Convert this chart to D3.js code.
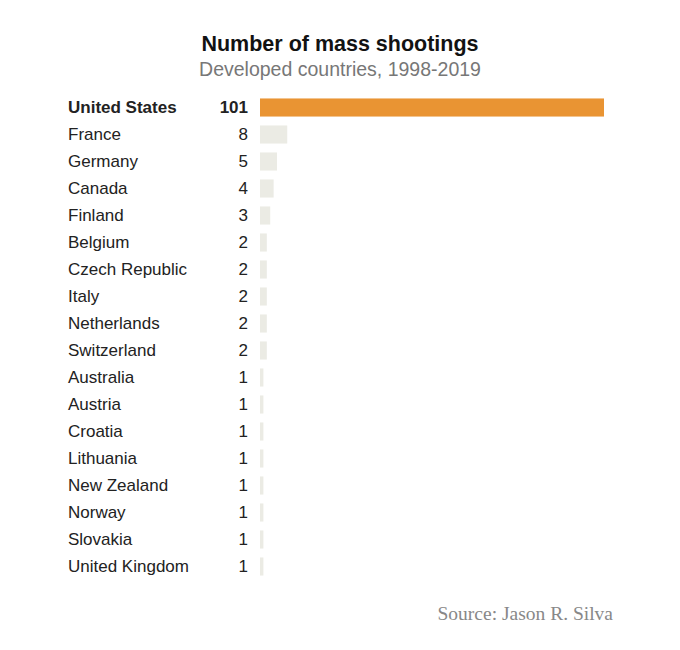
<!DOCTYPE html>
<html><head><meta charset="utf-8">
<script src="https://cdn.jsdelivr.net/npm/d3@7"></script>
<style>body{margin:0;background:#fff;}</style>
</head><body>
<svg id="chart" width="680" height="650"></svg>
<script>
const countries = ["United States","France","Germany","Canada","Finland","Belgium","Czech Republic","Italy","Netherlands","Switzerland","Australia","Austria","Croatia","Lithuania","New Zealand","Norway","Slovakia","United Kingdom"];
const shootings = [101,8,5,4,3,2,2,2,2,2,1,1,1,1,1,1,1,1];
const highlight = "United States";

const svg = d3.select("#chart");
const font = "'Liberation Sans', Arial, sans-serif";

svg.append("text").attr("x",340).attr("y",51).attr("text-anchor","middle")
  .attr("font-family",font).attr("font-weight","bold").attr("font-size",21.5).attr("fill","#121212")
  .text("Number of mass shootings");
svg.append("text").attr("x",340).attr("y",76).attr("text-anchor","middle")
  .attr("font-family",font).attr("font-size",19.5).attr("fill","#777")
  .text("Developed countries, 1998-2019");

const x = d3.scaleLinear().domain([0,101]).range([260,604]);
const y = d3.scaleBand().domain(countries).range([94,580]).paddingInner(0.33).paddingOuter(0.165);

const rows = svg.append("g").selectAll("g").data(countries).join("g");
rows.append("rect")
  .attr("x",x(0)).attr("y",d=>y(d))
  .attr("width",(d,i)=>x(shootings[i])-x(0)).attr("height",y.bandwidth())
  .attr("fill",d=>d===highlight?"#e99433":"#ebebe4");
rows.append("text").attr("x",68).attr("y",d=>y(d)+y.bandwidth()/2).attr("dy","0.35em")
  .attr("font-family",font).attr("font-size",17).attr("fill","#222")
  .attr("font-weight",d=>d===highlight?"bold":"normal")
  .text(d=>d);
rows.append("text").attr("x",248).attr("y",d=>y(d)+y.bandwidth()/2).attr("dy","0.35em")
  .attr("text-anchor","end")
  .attr("font-family",font).attr("font-size",17).attr("fill","#222")
  .attr("font-weight",d=>d===highlight?"bold":"normal")
  .text((d,i)=>shootings[i]);

svg.append("text").attr("x",613).attr("y",620).attr("text-anchor","end")
  .attr("font-family","'Liberation Serif','DejaVu Serif',Georgia,serif").attr("font-size",19.5).attr("fill","#888")
  .text("Source: Jason R. Silva");
</script>
</body></html>
